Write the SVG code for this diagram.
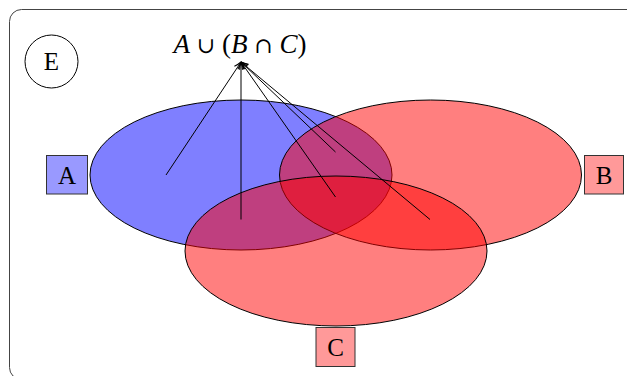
<svg xmlns="http://www.w3.org/2000/svg" width="627" height="376" viewBox="0 0 627 376">
<defs>
<style>
.serif{font-family:"Liberation Serif","Times New Roman",serif;fill:#000}
.sym{font-family:"DejaVu Serif","Liberation Serif",serif;font-size:22px}
.set{stroke:#000;stroke-width:1;fill-opacity:0.5}
.lbl{stroke:#333;stroke-width:1}
.conn line{stroke:#000;stroke-width:1;marker-end:url(#arr)}
</style>
<marker id="arr" viewBox="0 0 10 10" refX="9" refY="5" markerWidth="9" markerHeight="9" orient="auto" markerUnits="userSpaceOnUse">
<path d="M1,1.5 Q5,4 9,5 Q5,6 1,8.5" fill="none" stroke="#000" stroke-width="1.2"/>
</marker>
</defs>
<rect x="9.5" y="9.5" width="640" height="370" rx="12" fill="none" stroke="#444" stroke-width="1"/>
<g id="E">
<circle cx="51.5" cy="61.5" r="26.5" fill="none" stroke="#000"/>
<text class="serif" x="51.5" y="70" font-size="25" text-anchor="middle">E</text>
</g>
<g id="setA"><ellipse class="set" cx="241" cy="175" rx="151" ry="75" fill="#0000ff"/></g>
<g id="setB"><ellipse class="set" cx="430.5" cy="175" rx="151" ry="75" fill="#ff0000"/></g>
<g id="setC"><ellipse class="set" cx="336" cy="251" rx="151" ry="75" fill="#ff0000"/></g>
<g id="labelA">
<rect class="lbl" x="46.5" y="155.5" width="41" height="38.5" fill="#9999ff"/>
<text class="serif" x="67" y="183.5" font-size="25" text-anchor="middle">A</text>
</g>
<g id="labelB">
<rect class="lbl" x="584.5" y="155.5" width="39" height="38.5" fill="#ff9999"/>
<text class="serif" x="604" y="183.5" font-size="25" text-anchor="middle">B</text>
</g>
<g id="labelC">
<rect class="lbl" x="316" y="327.5" width="39" height="39" fill="#ff9999"/>
<text class="serif" x="335.5" y="355.5" font-size="25" text-anchor="middle">C</text>
</g>
<g id="title">
<text class="serif" x="240" y="53" font-size="27" text-anchor="middle"><tspan font-style="italic">A</tspan> <tspan class="sym">∪</tspan> (<tspan font-style="italic">B</tspan> <tspan class="sym">∩</tspan> <tspan font-style="italic">C</tspan>)</text>
</g>
<g class="conn" id="connectors">
<line x1="166" y1="175" x2="241" y2="62"/>
<line x1="241" y1="219.5" x2="241" y2="62"/>
<line x1="335.5" y1="197" x2="241" y2="62"/>
<line x1="335.5" y1="152" x2="241" y2="62"/>
<line x1="430" y1="219.5" x2="241" y2="62"/>
</g>
</svg>
